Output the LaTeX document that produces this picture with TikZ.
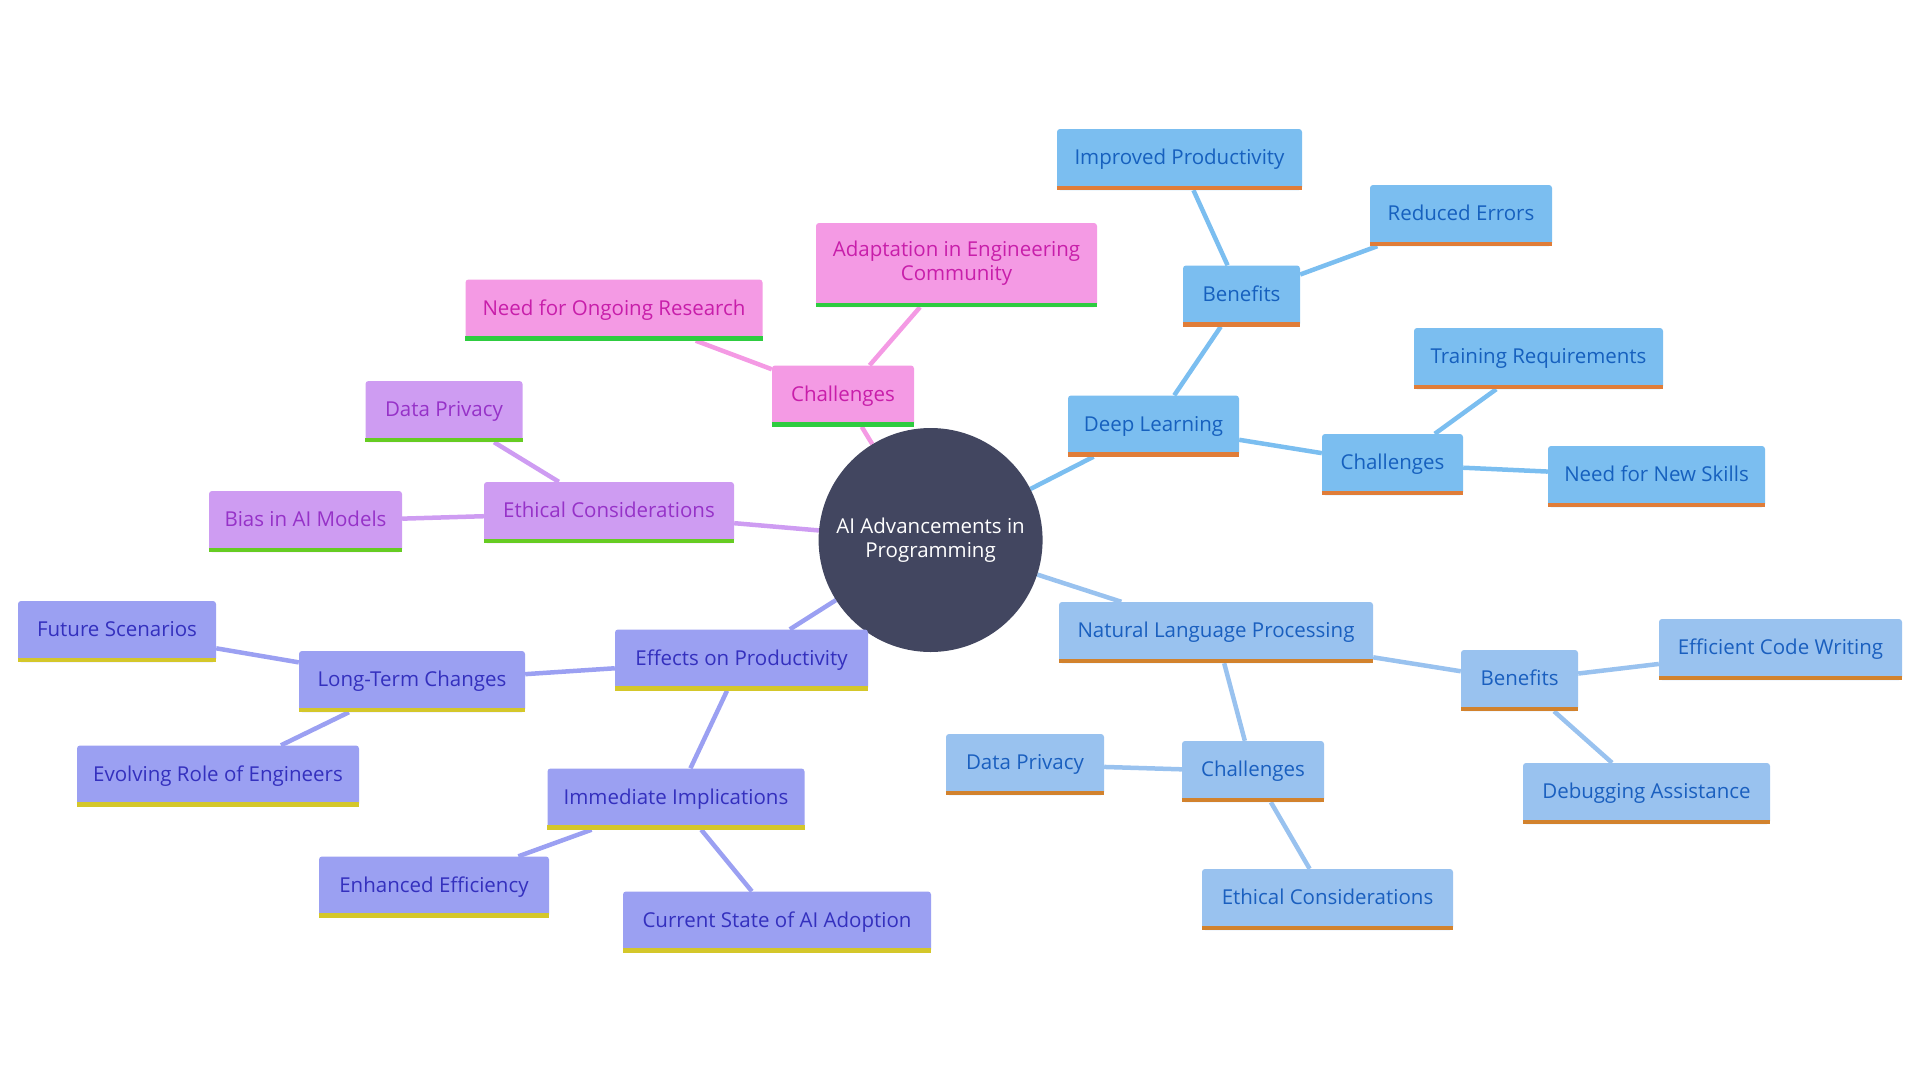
\documentclass[tikz,border=0pt]{standalone}
\usepackage{fontspec}
\setmainfont{Open Sans}
\usetikzlibrary{positioning,backgrounds}

\definecolor{rootfill}{RGB}{66,70,96}
\definecolor{dlfill}{RGB}{123,190,240}
\definecolor{dltext}{RGB}{22,96,190}
\definecolor{dlline}{RGB}{224,125,56}
\definecolor{nlpfill}{RGB}{153,194,239}
\definecolor{nlptext}{RGB}{26,95,191}
\definecolor{nlpline}{RGB}{210,130,45}
\definecolor{effill}{RGB}{155,160,242}
\definecolor{eftext}{RGB}{52,48,190}
\definecolor{efline}{RGB}{212,199,42}
\definecolor{ethfill}{RGB}{206,156,242}
\definecolor{ethtext}{RGB}{150,50,200}
\definecolor{ethline}{RGB}{102,204,34}
\definecolor{chfill}{RGB}{244,154,228}
\definecolor{chtext}{RGB}{200,30,170}
\definecolor{chline}{RGB}{46,204,64}

\tikzset{
  mbox/.style n args={3}{rectangle, rounded corners=3pt, fill=#1, text=#2,
    minimum height=61pt, inner sep=0pt, align=center,
    text height=15pt, text depth=4.5pt,
    font=\fontsize{20.5}{24}\selectfont,
    append after command={([yshift=2.25pt]\tikzlastnode.south west)
      edge[draw=#3, line width=4.5pt, rounded corners=0pt] ([yshift=2.25pt]\tikzlastnode.south east)}},
  dlnode/.style={mbox={dlfill}{dltext}{dlline}},
  nlpnode/.style={mbox={nlpfill}{nlptext}{nlpline}},
  efnode/.style={mbox={effill}{eftext}{efline}},
  ethnode/.style={mbox={ethfill}{ethtext}{ethline}},
  chnode/.style={mbox={chfill}{chtext}{chline}},
  dledge/.style={draw=dlfill, line width=4.5pt},
  nlpedge/.style={draw=nlpfill, line width=4.5pt},
  efedge/.style={draw=effill, line width=4.5pt},
  ethedge/.style={draw=ethfill, line width=4.5pt},
  chedge/.style={draw=chfill, line width=4.5pt}
}

\begin{document}
\begin{tikzpicture}[x=1pt, y=-1pt]
    \useasboundingbox (0,0) rectangle (1920,1080);
    % Centre
    \node[circle, fill=rootfill, text=white, minimum size=224pt, inner sep=0pt,
      align=center, font=\fontsize{20.5}{24}\selectfont] (root) at (930.6,540) {AI Advancements in\\Programming};

    % Deep Learning branch
    \node[dlnode, minimum width=171pt] (dl) at (1153.5,426) {Deep Learning};
    \node[dlnode, minimum width=117pt] (dlben) at (1241.5,296) {Benefits};
    \node[dlnode, minimum width=245pt] (dlprod) at (1179.5,159.5) {Improved Productivity};
    \node[dlnode, minimum width=182pt] (dlerr) at (1461,215.5) {Reduced Errors};
    \node[dlnode, minimum width=141pt] (dlch) at (1392.5,464.5) {Challenges};
    \node[dlnode, minimum width=249pt] (dltrain) at (1538.5,358.5) {Training Requirements};
    \node[dlnode, minimum width=217pt] (dlskill) at (1656.5,476.5) {Need for New Skills};

    % Natural Language Processing branch
    \node[nlpnode, minimum width=314pt] (nlp) at (1216,632.5) {Natural Language Processing};
    \node[nlpnode, minimum width=117pt] (nlpben) at (1519.5,680.5) {Benefits};
    \node[nlpnode, minimum width=243pt] (nlpcode) at (1780.5,649.5) {Efficient Code Writing};
    \node[nlpnode, minimum width=247pt] (nlpdebug) at (1646.5,793.5) {Debugging Assistance};
    \node[nlpnode, minimum width=142pt] (nlpch) at (1253,771.5) {Challenges};
    \node[nlpnode, minimum width=158pt] (nlppriv) at (1025,764.5) {Data Privacy};
    \node[nlpnode, minimum width=251pt] (nlpeth) at (1327.5,899.5) {Ethical Considerations};

    % Effects on Productivity branch
    \node[efnode, minimum width=253pt] (ef) at (741.5,660) {Effects on Productivity};
    \node[efnode, minimum width=226pt] (eflong) at (412,681.5) {Long-Term Changes};
    \node[efnode, minimum width=198pt] (effut) at (117,631.5) {Future Scenarios};
    \node[efnode, minimum width=282pt] (efrole) at (218,776) {Evolving Role of Engineers};
    \node[efnode, minimum width=257pt] (efimm) at (676,799) {Immediate Implications};
    \node[efnode, minimum width=230pt] (efeff) at (434,887) {Enhanced Efficiency};
    \node[efnode, minimum width=308pt] (efstate) at (777,922) {Current State of AI Adoption};

    % Ethical Considerations branch
    \node[ethnode, minimum width=250pt] (eth) at (609,512.5) {Ethical Considerations};
    \node[ethnode, minimum width=157pt] (ethpriv) at (444,411.5) {Data Privacy};
    \node[ethnode, minimum width=193pt] (ethbias) at (305.5,521.5) {Bias in AI Models};

    % Challenges branch
    \node[chnode, minimum width=142pt] (ch) at (843,396) {Challenges};
    \node[chnode, minimum width=297pt] (chres) at (614,310) {Need for Ongoing Research};
    \node[chnode, minimum width=281pt, minimum height=84pt, text height=35pt] (chadapt) at (956.5,265) {Adaptation in Engineering\\Community};

    % Connectors
    \begin{scope}[on background layer]
        \draw[dledge] (root) -- (dl);
        \draw[dledge] (dl) -- (dlben);
        \draw[dledge] (dlben) -- (dlprod);
        \draw[dledge] (dlben) -- (dlerr);
        \draw[dledge] (dl) -- (dlch);
        \draw[dledge] (dlch) -- (dltrain);
        \draw[dledge] (dlch) -- (dlskill);

        \draw[nlpedge] (root) -- (nlp);
        \draw[nlpedge] (nlp) -- (nlpben);
        \draw[nlpedge] (nlpben) -- (nlpcode);
        \draw[nlpedge] (nlpben) -- (nlpdebug);
        \draw[nlpedge] (nlp) -- (nlpch);
        \draw[nlpedge] (nlpch) -- (nlppriv);
        \draw[nlpedge] (nlpch) -- (nlpeth);

        \draw[efedge] (root) -- (ef);
        \draw[efedge] (ef) -- (eflong);
        \draw[efedge] (eflong) -- (effut);
        \draw[efedge] (eflong) -- (efrole);
        \draw[efedge] (ef) -- (efimm);
        \draw[efedge] (efimm) -- (efeff);
        \draw[efedge] (efimm) -- (efstate);

        \draw[ethedge] (root) -- (eth);
        \draw[ethedge] (eth) -- (ethpriv);
        \draw[ethedge] (eth) -- (ethbias);

        \draw[chedge] (root) -- (ch);
        \draw[chedge] (ch) -- (chres);
        \draw[chedge] (ch) -- (chadapt);
    \end{scope}
\end{tikzpicture}
\end{document}
